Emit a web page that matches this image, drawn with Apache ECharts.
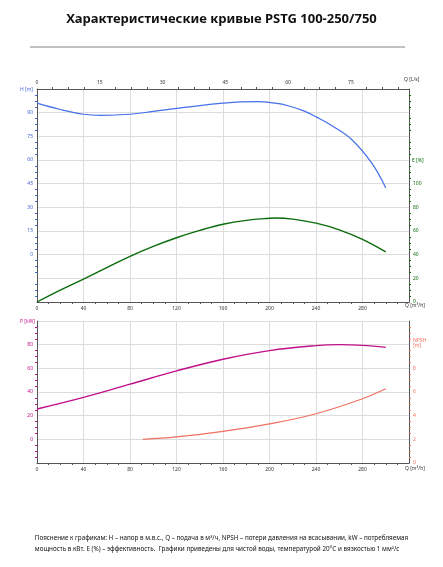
<!DOCTYPE html>
<html><head><meta charset="utf-8">
<script src="https://cdn.jsdelivr.net/npm/echarts@6/dist/echarts.min.js"></script>
<style>html,body{margin:0;padding:0;background:#fff}#c{width:443px;height:567px}</style>
</head><body><div id="c"></div>
<script>
// данные кривых, Q в м3/ч
var headQ = [0,20,40,55,80,100,120,140,160,175,190,205,216,230,241,252,270,288,300];
var headH = [96,92,89,88.3,89,90.8,92.7,94.5,96,96.8,97,96,94.4,91,87,82.5,73.5,58,42.3];
var effQ = [0,20,40,60,80,100,120,140,160,180,200,206,220,240,260,280,300];
var effE = [0,10,19.4,29,38.6,47,54.3,60.5,65.7,69,70.8,71,70,66.6,61,52.9,42.3];
var powQ = [0,40,80,120,160,200,240,260,280,300];
var powP = [25.6,35.4,46.6,57.8,67.7,75,79.2,80,79.4,77.7];
var npshQ = [91,120,160,200,240,280,300];
var npshV = [2.0,2.2,2.67,3.3,4.16,5.43,6.27];

function pairs(xs, ys){
    var out = [];
    for(var i = 0; i < xs.length; i++){ out.push([xs[i], ys[i]]); }
    return out;
}

var fs = 5;
function xAx(grid, pos, max, interval, maxShow, showGrid){
    return {type:'value', gridIndex:grid, position:pos, min:0, max:max, interval:interval,
        axisLine:{onZero:false, lineStyle:{color:'#555'}}, axisTick:{show:false},
        minorTick:{show:true, splitNumber:4, length:2},
        axisLabel:{fontSize:fs, color:'#333', margin:4, formatter:function(v){ return v > maxShow ? '' : v; }},
        splitLine:{show:showGrid, lineStyle:{color:'#ddd'}}};
}
function yAx(grid, pos, min, max, interval, col, maxShow, showGrid){
    return {type:'value', gridIndex:grid, position:pos, min:min, max:max, interval:interval,
        axisLine:{show:true, onZero:false, lineStyle:{color:'#555'}}, axisTick:{show:false},
        minorTick:{show:true, splitNumber:4, length:2, lineStyle:{color:col}},
        axisLabel:{fontSize:fs, color:col, margin:4, formatter:function(v){ return (v < 0 || v > maxShow) ? '' : v; }},
        splitLine:{show:showGrid, lineStyle:{color:'#ddd'}}};
}
function nm(x, y, t, col){
    return {type:'text', x:x, y:y, style:{text:t, font:'5px "Noto Sans"', fill:col}};
}

var chart = echarts.init(document.getElementById('c'));
chart.setOption({
    animation:false,
    textStyle:{fontFamily:'Noto Sans'},
    grid:[
        {left:37, right:34, top:89, height:213},
        {left:37, right:34, top:321, height:142}
    ],
    xAxis:[
        xAx(0,'bottom',320,40,280,true),
        xAx(0,'top',320/3.6,15,75,false),
        xAx(1,'bottom',320,40,280,true)
    ],
    yAxis:[
        yAx(0,'left',-30,105,15,'#4466dd',90,true),
        yAx(0,'right',0,180,20,'#0a6b0a',100,false),
        yAx(1,'left',-20,100,20,'#c0108a',80,true),
        yAx(1,'right',0,12,2,'#f07060',8,false)
    ],
    series:[
        {type:'line', xAxisIndex:0, yAxisIndex:0, smooth:0.4, showSymbol:false, data:pairs(headQ, headH), lineStyle:{color:'#4470e8', width:1.2}},
        {type:'line', xAxisIndex:0, yAxisIndex:1, smooth:0.4, showSymbol:false, data:pairs(effQ, effE), lineStyle:{color:'#0a6b0a', width:1.4}},
        {type:'line', xAxisIndex:2, yAxisIndex:2, smooth:0.4, showSymbol:false, data:pairs(powQ, powP), lineStyle:{color:'#c0108a', width:1.4}},
        {type:'line', xAxisIndex:2, yAxisIndex:3, smooth:0.4, showSymbol:false, data:pairs(npshQ, npshV), lineStyle:{color:'#f07060', width:1.2}}
    ],
    graphic:[
        {type:'text', left:'center', top:13, style:{text:'Характеристические кривые PSTG 100-250/750', font:'bold 13px "Noto Sans"', fill:'#111'}},
        {type:'line', shape:{x1:30, y1:47, x2:405, y2:47}, style:{stroke:'#666', lineWidth:0.8}},
        nm(20, 87, 'H [m]', '#4466dd'),
        nm(404, 77, 'Q [L/s]', '#333'),
        nm(405, 303, 'Q [m³/h]', '#333'),
        nm(412, 158, 'E [%]', '#0a6b0a'),
        nm(20, 319, 'P [kW]', '#c0108a'),
        nm(413, 338, 'NPSH\n[m]', '#f07060'),
        nm(405, 466, 'Q [m³/h]', '#333'),
        {type:'text', left:'center', top:533, style:{text:'Пояснение к графикам: H – напор в м.в.с., Q – подача в м³/ч, NPSH – потери давления на всасывании, kW – потребляемая\nмощность в кВт. E (%) – эффективность.  Графики приведены для чистой воды, температурой 20°C и вязкостью 1 мм²/с', font:'6.3px "Noto Sans"', fill:'#111', lineHeight:11, align:'left'}}
    ]
});
</script>
</body></html>
